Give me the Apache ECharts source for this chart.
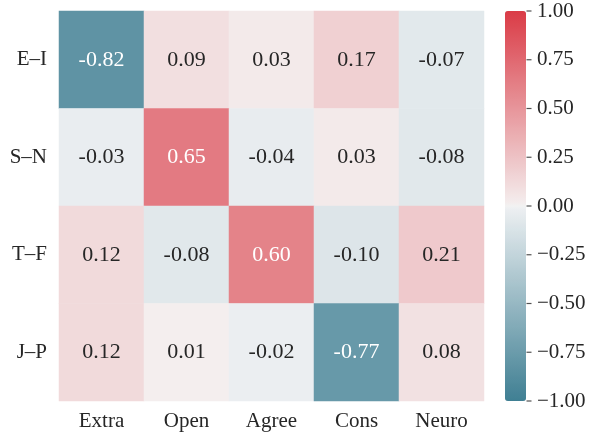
<!DOCTYPE html>
<html>
<head>
<meta charset="utf-8">
<script src="https://cdn.jsdelivr.net/npm/echarts@6/dist/echarts.min.js"></script>
<style>
html,body{margin:0;padding:0;background:#fff;}
#c{width:597px;height:434px;}
</style>
</head>
<body>
<div id="c"></div>
<script>
const rows = ['E–I', 'S–N', 'T–F', 'J–P'];
const cols = ['Extra', 'Open', 'Agree', 'Cons', 'Neuro'];
const rowEI = [-0.82, 0.09, 0.03, 0.17, -0.07];
const rowSN = [-0.03, 0.65, -0.04, 0.03, -0.08];
const rowTF = [0.12, -0.08, 0.60, -0.10, 0.21];
const rowJP = [0.12, 0.01, -0.02, -0.77, 0.08];
const colorbarTicks = [-1, -0.75, -0.5, -0.25, 0, 0.25, 0.5, 0.75, 1];

const matrix = [rowEI, rowSN, rowTF, rowJP];
const data = [];
matrix.forEach((r, i) => r.forEach((v, j) => data.push([j, i, v])));

// diverging palette (blue 220 -> light -> red 10), 257 stops
const blue = [63, 127, 147], grayB = [237, 240, 242];
const red = [218, 59, 70], grayR = [244, 238, 238];
const mid = [242, 242, 242];
function mix(a, b, t) { return a.map((x, k) => Math.round(x + (b[k] - x) * t)); }
function hex(c) { return '#' + c.map(x => x.toString(16).padStart(2, '0')).join(''); }
const pal = [];
for (let i = 0; i < 128; i++) pal.push(hex(mix(blue, grayB, i / 127)));
pal.push(hex(mid));
for (let i = 0; i < 128; i++) pal.push(hex(mix(grayR, red, i / 127)));

const FONT = 'Liberation Serif';
const TXT = '#262626';

const styled = data.map(d => ({value: d, label: {color: Math.abs(d[2]) > 0.45 ? '#ffffff' : TXT}}));
const tickMarks = colorbarTicks.map(t => [1, t]);

const chart = echarts.init(document.getElementById('c'), null, {renderer: 'canvas'});
chart.setOption({
  backgroundColor: '#fff',
  animation: false,
  grid: [
    {left: 59, top: 11, width: 425, height: 390},
    {left: 505, top: 11, width: 21, height: 390}
  ],
  xAxis: [
    {type: 'category', data: cols, gridIndex: 0, position: 'bottom',
     axisLine: {show: false}, axisTick: {show: false}, splitLine: {show: false},
     axisLabel: {fontFamily: FONT, fontSize: 21, color: TXT, margin: 10}},
    {type: 'value', gridIndex: 1, show: false, min: 0, max: 1}
  ],
  yAxis: [
    {type: 'category', data: rows, gridIndex: 0, inverse: true,
     axisLine: {show: false}, axisTick: {show: false}, splitLine: {show: false},
     axisLabel: {fontFamily: FONT, fontSize: 21, color: TXT, margin: 12}},
    {type: 'value', gridIndex: 1, position: 'right', min: -1, max: 1, interval: 0.25,
     axisLine: {show: false}, splitLine: {show: false}, axisTick: {show: false},
     axisLabel: {fontFamily: FONT, fontSize: 21, color: TXT, margin: 11,
       formatter: v => (v < 0 ? '\u2212' : '') + Math.abs(v).toFixed(2)}}
  ],
  visualMap: {
    type: 'continuous', min: -1, max: 1, seriesIndex: 0,
    orient: 'vertical', left: 505, top: 11, itemWidth: 21, itemHeight: 390,
    padding: 0, calculable: false, hoverLink: false, text: null, z: 1,
    inRange: {color: pal}
  },
  series: [
    {type: 'heatmap', xAxisIndex: 0, yAxisIndex: 0, data: styled,
     itemStyle: {borderWidth: 0},
     emphasis: {disabled: true},
     label: {show: true, fontFamily: FONT, fontSize: 22,
       formatter: p => p.value[2].toFixed(2),
       color: TXT
     }
    },
    {type: 'scatter', xAxisIndex: 1, yAxisIndex: 1, data: tickMarks, silent: true, clip: false,
     symbol: 'rect', symbolSize: [5, 1.2], symbolOffset: [3, 0], z: 20,
     itemStyle: {color: TXT}}
  ]
});
</script>
</body>
</html>
